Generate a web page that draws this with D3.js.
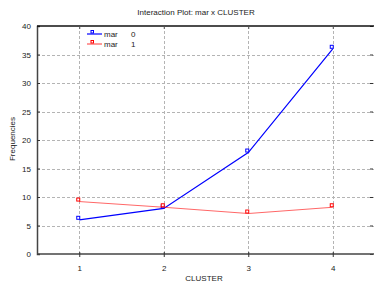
<!DOCTYPE html>
<html><head><meta charset="utf-8">
<script src="https://cdn.jsdelivr.net/npm/d3@7"></script>
<style>body{margin:0;background:#fff}svg{display:block}text{font-family:"Liberation Sans",Arial,sans-serif}</style>
</head><body><svg id="c" width="374" height="289"></svg>
<script>
const clusters = [1, 2, 3, 4];
const mar0 = [6.0, 8.0, 17.8, 36.0];
const mar1 = [9.2, 8.2, 7.1, 8.2];
const yTicks = [0, 5, 10, 15, 20, 25, 30, 35, 40];
const seriesNames = ["mar", "mar"];
const seriesLevels = ["0", "1"];
const colors = ["#0000ff", "#ff0000"];

const svg = d3.select("#c");
const m = {l: 37, r: 375, t: 26, b: 254};
const x = d3.scaleLinear().domain([0.5, 4.5]).range([m.l, m.r]);
const y = d3.scaleLinear().domain([0, 40]).range([m.b, m.t]);

// grid
const g = svg.append("g");
g.selectAll(".hg").data(yTicks.filter(d => d > 0 && d < 40)).enter().append("line")
  .attr("x1", m.l).attr("x2", m.r).attr("y1", d => Math.round(y(d)) + 0.5).attr("y2", d => Math.round(y(d)) + 0.5)
  .attr("stroke", "#b4b4b4").attr("stroke-dasharray", "3,2");
g.selectAll(".vg").data(clusters).enter().append("line")
  .attr("y1", m.t).attr("y2", m.b).attr("x1", d => Math.round(x(d)) + 0.5).attr("x2", d => Math.round(x(d)) + 0.5)
  .attr("stroke", "#b4b4b4").attr("stroke-dasharray", "3,2");

// axes
const yAxis = d3.axisLeft(y).tickValues(yTicks).tickSize(-3).tickPadding(6);
const ya = svg.append("g").attr("transform", `translate(${m.l},0)`).call(yAxis);
ya.select(".domain").attr("stroke", "#444").attr("stroke-width", 1.5);
ya.selectAll(".tick line").attr("stroke", "#333");
ya.selectAll("text").attr("font-size", 8).attr("fill", "#222");

const yR = d3.axisRight(y).tickValues(yTicks).tickSize(-3).tickFormat("");
const yr = svg.append("g").attr("transform", `translate(${m.r - 2},0)`).call(yR);
yr.select(".domain").remove();
yr.selectAll(".tick line").attr("stroke", "#333");

const xAxis = d3.axisBottom(x).tickValues(clusters).tickSize(3).tickPadding(8).tickFormat(d3.format("d"));
const xa = svg.append("g").attr("transform", `translate(0,${m.b})`).call(xAxis);
xa.select(".domain").attr("stroke", "#444").attr("stroke-width", 1.5).attr("d", `M${m.l},0H${m.r}`);
xa.selectAll(".tick line").attr("y1", -2).attr("stroke", "#333");
xa.selectAll("text").attr("font-size", 8).attr("fill", "#222");

const xT = d3.axisTop(x).tickValues(clusters).tickSize(-3).tickFormat("");
const xt = svg.append("g").attr("transform", `translate(0,${m.t})`).call(xT);
xt.select(".domain").attr("stroke", "#111").attr("stroke-width", 1.5).attr("d", `M${m.l},0H${m.r}`);
xt.selectAll(".tick line").attr("stroke", "#555");

// series
const line = d3.line().x((d, i) => x(clusters[i])).y(d => y(d));
[mar0, mar1].forEach((s, k) => {
  svg.append("path").datum(s).attr("d", line).attr("fill", "none")
    .attr("stroke", colors[k]).attr("stroke-width", k === 0 ? 1.2 : 0.8).attr("stroke-opacity", k === 0 ? 1 : 0.75);
  svg.selectAll(".mk" + k).data(s).enter().append("rect")
    .attr("x", (d, i) => x(clusters[i]) - 2.5).attr("y", d => y(d) - 3.5)
    .attr("width", 3).attr("height", 3)
    .attr("fill", "#fff").attr("stroke", colors[k]).attr("stroke-width", 1);
});

// legend
seriesNames.forEach((n, k) => {
  const ly = 34 + k * 10;
  svg.append("line").attr("x1", 87).attr("x2", 102).attr("y1", ly).attr("y2", ly)
    .attr("stroke", colors[k]).attr("stroke-width", k === 0 ? 1.2 : 0.8);
  svg.append("rect").attr("x", 91).attr("y", ly - 3.5).attr("width", 2.5).attr("height", 2.5)
    .attr("fill", "#fff").attr("stroke", colors[k]).attr("stroke-width", 1);
  svg.append("text").attr("x", 104).attr("y", ly + 3).attr("font-size", 8).attr("fill", "#222").text(n);
  svg.append("text").attr("x", 131).attr("y", ly + 3).attr("font-size", 8).attr("fill", "#222").text(seriesLevels[k]);
});

// titles
svg.append("text").attr("x", 196).attr("y", 15).attr("text-anchor", "middle").attr("font-size", 8).attr("fill", "#222")
  .text("Interaction Plot: mar x CLUSTER");
svg.append("text").attr("x", 204).attr("y", 281).attr("text-anchor", "middle").attr("font-size", 8).attr("fill", "#222")
  .text("CLUSTER");
svg.append("text").attr("transform", "translate(15,139) rotate(-90)").attr("text-anchor", "middle").attr("font-size", 8).attr("fill", "#222")
  .text("Frequencies");
</script></body></html>
